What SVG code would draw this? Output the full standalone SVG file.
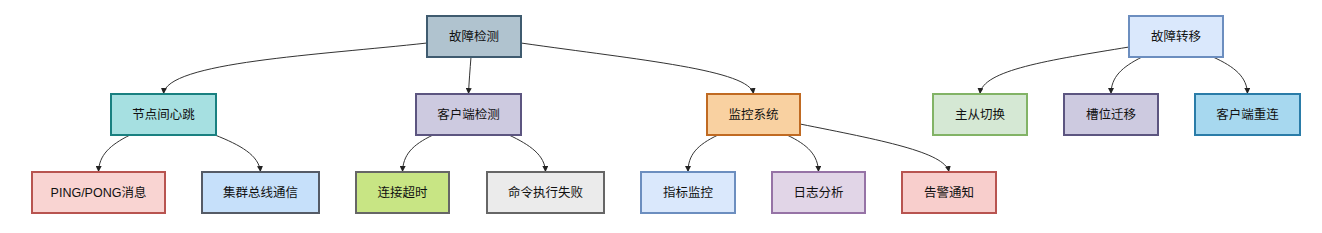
<svg xmlns="http://www.w3.org/2000/svg" width="1322" height="233" viewBox="0 0 1322 233">
<defs>
<marker id="arr" viewBox="0 0 10 10" refX="10" refY="5" markerWidth="6" markerHeight="6" orient="auto" markerUnits="userSpaceOnUse">
<path d="M0,0 L10,5 L0,10 z" fill="#222"/>
</marker>
<style>
.n rect{stroke-width:2}
.n text{font-family:"Liberation Sans","Noto Sans CJK SC",sans-serif;font-size:12.5px;fill:#111;text-anchor:middle;dominant-baseline:central}
.e path{fill:none;stroke:#333;stroke-width:1;marker-end:url(#arr)}
</style>
</defs>
<rect width="1322" height="233" fill="#fff"/>
<g class="e" id="connectors">
<path d="M427,43 C320,55 166,62 163.5,94"/>
<path d="M471,57 C470,70 469,82 468.5,94"/>
<path d="M521,43 C640,60 750,70 753.5,94"/>
<path d="M130,135 C110,145 99,155 98.5,172"/>
<path d="M215,135 C240,145 259,155 260.5,172"/>
<path d="M433,135 C412,145 403,155 402.5,172"/>
<path d="M509,135 C530,145 545,155 545.5,172"/>
<path d="M718,135 C697,145 688,155 688,172"/>
<path d="M787,135 C808,145 818,155 818.5,172"/>
<path d="M800,124 C880,140 945,152 949,172"/>
<path d="M1129,47 C1050,60 982,70 980,94"/>
<path d="M1142,57 C1122,67 1111,77 1111,94"/>
<path d="M1213,57 C1235,67 1247,77 1247.5,94"/>
</g>
<g class="n" id="n-gzjc"><rect x="427" y="16" width="94" height="41" fill="#b0c3cf" stroke="#3f5b6f"/><text x="474" y="36.5">故障检测</text></g>
<g class="n" id="n-jdxt"><rect x="111" y="94" width="105" height="41" fill="#a6e0e1" stroke="#198080"/><text x="163.5" y="114.5">节点间心跳</text></g>
<g class="n" id="n-khdjc"><rect x="416" y="94" width="105" height="41" fill="#cdcae0" stroke="#5c5580"/><text x="468.5" y="114.5">客户端检测</text></g>
<g class="n" id="n-jkxt"><rect x="707" y="94" width="93" height="41" fill="#f9d1a1" stroke="#c06a22"/><text x="753.5" y="114.5">监控系统</text></g>
<g class="n" id="n-ping"><rect x="32" y="172" width="133" height="41" fill="#f9d4d2" stroke="#b85450"/><text x="98.5" y="192.5">PING/PONG消息</text></g>
<g class="n" id="n-jqzx"><rect x="202" y="172" width="117" height="41" fill="#c6e0fa" stroke="#555b66"/><text x="260.5" y="192.5">集群总线通信</text></g>
<g class="n" id="n-ljcs"><rect x="356" y="172" width="93" height="41" fill="#c8e584" stroke="#666"/><text x="402.5" y="192.5">连接超时</text></g>
<g class="n" id="n-mlzx"><rect x="487" y="172" width="117" height="41" fill="#ebebeb" stroke="#666"/><text x="545.5" y="192.5">命令执行失败</text></g>
<g class="n" id="n-zbjk"><rect x="641" y="172" width="94" height="41" fill="#dae8fc" stroke="#6c8ebf"/><text x="688" y="192.5">指标监控</text></g>
<g class="n" id="n-rzfx"><rect x="772" y="172" width="93" height="41" fill="#e1d5e7" stroke="#9673a6"/><text x="818.5" y="192.5">日志分析</text></g>
<g class="n" id="n-gjtz"><rect x="902" y="172" width="94" height="41" fill="#f8cecc" stroke="#b85450"/><text x="949" y="192.5">告警通知</text></g>
<g class="n" id="n-gzzy"><rect x="1129" y="16" width="94" height="41" fill="#dae8fc" stroke="#6c8ebf"/><text x="1176" y="36.5">故障转移</text></g>
<g class="n" id="n-zcqh"><rect x="933" y="94" width="94" height="41" fill="#d5e8d4" stroke="#82b366"/><text x="980" y="114.5">主从切换</text></g>
<g class="n" id="n-cwqy"><rect x="1064" y="94" width="94" height="41" fill="#cdcae0" stroke="#5c5580"/><text x="1111" y="114.5">槽位迁移</text></g>
<g class="n" id="n-khdcl"><rect x="1195" y="94" width="105" height="41" fill="#a7d8ef" stroke="#2a7ca8"/><text x="1247.5" y="114.5">客户端重连</text></g>
</svg>
